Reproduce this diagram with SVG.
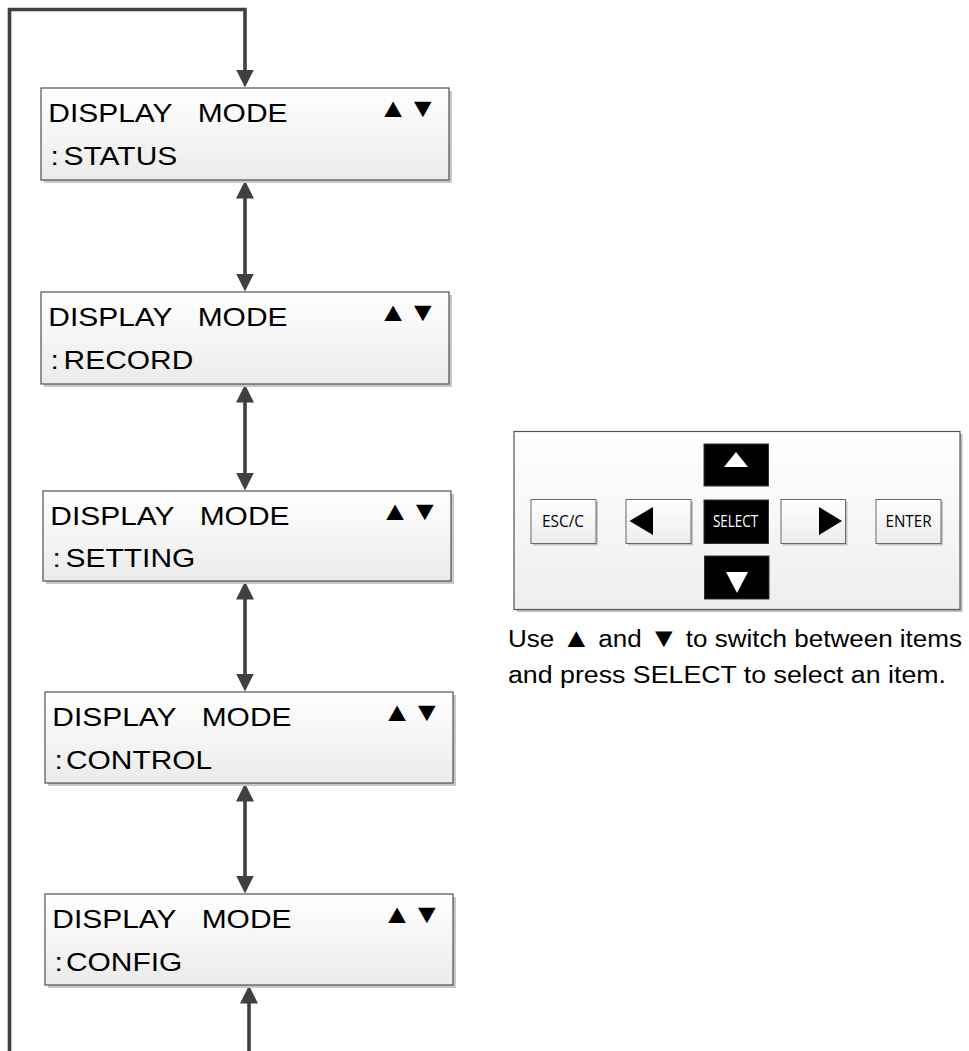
<svg xmlns="http://www.w3.org/2000/svg" width="969" height="1051" viewBox="0 0 969 1051">
<style>
.lcd{fill:url(#lcdg);stroke:#505050;stroke-width:1.2}
.shd{fill:#c8c8c8}
.t{font-family:"Liberation Sans",Arial,sans-serif;font-size:26.5px;fill:#000}
.cap{font-family:"Liberation Sans",Arial,sans-serif;font-size:23.5px;fill:#000}
.tri{font-size:27px}
.key{fill:url(#keyg);stroke:#6a6a6a;stroke-width:1}
.blk{fill:#000;stroke:#333;stroke-width:1}
.kt{font-family:"Open Sans","Noto Sans",sans-serif;font-size:16px;text-anchor:middle}
</style>
<defs>
<linearGradient id="lcdg" x1="0" y1="0" x2="0" y2="1"><stop offset="0" stop-color="#ffffff"/><stop offset="1" stop-color="#ebebeb"/></linearGradient>
<linearGradient id="keyg" x1="0" y1="0" x2="0" y2="1"><stop offset="0" stop-color="#ffffff"/><stop offset="1" stop-color="#ececec"/></linearGradient>
<linearGradient id="panelg" x1="0" y1="0" x2="0" y2="1"><stop offset="0" stop-color="#ffffff"/><stop offset="1" stop-color="#eeeeee"/></linearGradient>
<marker id="ah" viewBox="0 0 18 18" refX="0.5" refY="9" markerWidth="18" markerHeight="18" markerUnits="userSpaceOnUse" orient="auto-start-reverse"><path d="M0,0 L18,9 L0,18 Z" fill="#404040"/></marker>
</defs>

<g id="connectors" stroke="#404040" stroke-width="3.6" fill="none" stroke-linejoin="miter">
<path d="M9.5,1051 V9.5 H245 V70" marker-end="url(#ah)"/>
<path d="M245,198 V274" marker-start="url(#ah)" marker-end="url(#ah)"/>
<path d="M245,402 V473" marker-start="url(#ah)" marker-end="url(#ah)"/>
<path d="M245,599 V674" marker-start="url(#ah)" marker-end="url(#ah)"/>
<path d="M245,801 V876" marker-start="url(#ah)" marker-end="url(#ah)"/>
<path d="M249,1051 V1003" marker-end="url(#ah)"/>
</g>

<g id="box1">
<rect class="shd" x="44" y="91" width="408" height="92"/>
<rect class="lcd" x="41" y="88" width="408" height="92"/>
<text class="t" transform="translate(48.3,121.5) scale(1.13,1)">DISPLAY <tspan x="132.2">MODE</tspan></text>
<text class="t" transform="translate(50.6,165) scale(1.13,1)">:<tspan x="11.5">STATUS</tspan></text>
<text class="t" transform="translate(378.3,117) scale(1.13,1)">▲▼</text>
</g>

<g id="box2">
<rect class="shd" x="44" y="295" width="408" height="92"/>
<rect class="lcd" x="41" y="292" width="408" height="92"/>
<text class="t" transform="translate(48.3,325.5) scale(1.13,1)">DISPLAY <tspan x="132.2">MODE</tspan></text>
<text class="t" transform="translate(50.6,369) scale(1.13,1)">:<tspan x="11.5">RECORD</tspan></text>
<text class="t" transform="translate(378.3,321) scale(1.13,1)">▲▼</text>
</g>

<g id="box3">
<rect class="shd" x="46" y="494" width="408" height="90"/>
<rect class="lcd" x="43" y="491" width="408" height="90"/>
<text class="t" transform="translate(50.3,524.5) scale(1.13,1)">DISPLAY <tspan x="132.2">MODE</tspan></text>
<text class="t" transform="translate(52.6,567) scale(1.13,1)">:<tspan x="11.5">SETTING</tspan></text>
<text class="t" transform="translate(380.3,520) scale(1.13,1)">▲▼</text>
</g>

<g id="box4">
<rect class="shd" x="48" y="695" width="408" height="91"/>
<rect class="lcd" x="45" y="692" width="408" height="91"/>
<text class="t" transform="translate(52.3,725.5) scale(1.13,1)">DISPLAY <tspan x="132.2">MODE</tspan></text>
<text class="t" transform="translate(54.6,769) scale(1.13,1)">:<tspan x="10">CONTROL</tspan></text>
<text class="t" transform="translate(382.3,721) scale(1.13,1)">▲▼</text>
</g>

<g id="box5">
<rect class="shd" x="48" y="897" width="408" height="91"/>
<rect class="lcd" x="45" y="894" width="408" height="91"/>
<text class="t" transform="translate(52.3,927.5) scale(1.13,1)">DISPLAY <tspan x="132.2">MODE</tspan></text>
<text class="t" transform="translate(54.6,971) scale(1.13,1)">:<tspan x="10">CONFIG</tspan></text>
<text class="t" transform="translate(382.3,923) scale(1.13,1)">▲▼</text>
</g>

<g id="keypad">
<rect x="516.5" y="434" width="446" height="178" fill="#bdbdbd"/>
<rect x="514" y="431.5" width="446" height="178" fill="url(#panelg)" stroke="#555" stroke-width="1.2"/>
<g id="key-up">
<rect class="blk" x="704" y="444" width="64.5" height="42"/>
<polygon points="736,452 748,467 724,467" fill="#fff"/>
</g>
<g id="key-esc">
<rect x="533" y="501.5" width="65" height="44" fill="#c4c4c4"/>
<rect class="key" x="531" y="499.5" width="65" height="44"/>
<text class="kt" x="563" y="527" textLength="42" lengthAdjust="spacingAndGlyphs">ESC/C</text>
</g>
<g id="key-left">
<rect x="628" y="501.5" width="65" height="44" fill="#c4c4c4"/>
<rect class="key" x="626" y="499.5" width="65" height="44"/>
<polygon points="629.5,521 653,507 653,535" fill="#000"/>
</g>
<g id="key-select">
<rect class="blk" x="704" y="500" width="64.5" height="43.5"/>
<text class="kt" x="735.5" y="527" fill="#fff" textLength="45" lengthAdjust="spacingAndGlyphs">SELECT</text>
</g>
<g id="key-right">
<rect x="783" y="501.5" width="64.5" height="44" fill="#c4c4c4"/>
<rect class="key" x="781" y="499.5" width="64.5" height="44"/>
<polygon points="819,507 842,521 819,535" fill="#000"/>
</g>
<g id="key-enter">
<rect x="878" y="501.5" width="65" height="44" fill="#c4c4c4"/>
<rect class="key" x="876" y="499.5" width="65" height="44"/>
<text class="kt" x="908.5" y="527" textLength="46" lengthAdjust="spacingAndGlyphs">ENTER</text>
</g>
<g id="key-down">
<rect class="blk" x="704.5" y="556" width="64.5" height="43"/>
<polygon points="726,572 748,572 737,593" fill="#fff"/>
</g>
</g>

<g id="caption">
<text class="cap" x="508" y="647" textLength="454" lengthAdjust="spacingAndGlyphs">Use <tspan class="tri">▲</tspan> and <tspan class="tri">▼</tspan> to switch between items</text>
<text class="cap" x="508" y="683" textLength="438" lengthAdjust="spacingAndGlyphs">and press SELECT to select an item.</text>
</g>
</svg>
